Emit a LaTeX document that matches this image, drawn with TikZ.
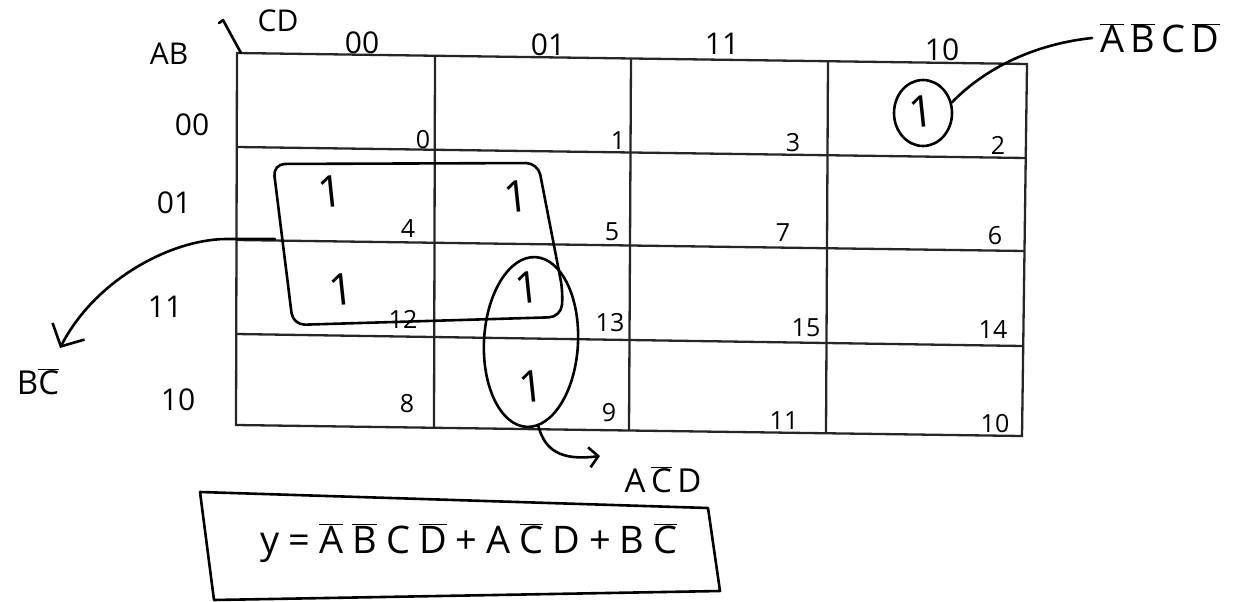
\documentclass[tikz,border=0pt]{standalone}
\usepackage{fontspec}
\setmainfont{Open Sans}
\usetikzlibrary{arrows.meta,shapes.geometric}
\newcommand\nb[1]{$\overline{\mbox{#1}}$}
\newcommand\gap{\kern9pt}
\begin{document}
\begin{tikzpicture}[x=1pt,y=-1pt,
  ink/.style={line width=2.6pt, line cap=round, line join=round, draw=black},
  gridline/.style={line width=2.3pt, draw=black!85},
  lbl/.style={font=\fontsize{30}{32}\selectfont, inner sep=0pt},
  cellno/.style={font=\fontsize{25}{27}\selectfont, inner sep=0pt},
  one/.style={font=\fontsize{44}{46}\selectfont, inner sep=0pt, rotate=6},
  term/.style={inner sep=0pt},
  barb/.style={-{Straight Barb[length=17pt,width=36pt,line width=2.6pt]}},
  smallbarb/.style={-{Straight Barb[length=9pt,width=20pt,line width=2.6pt]}},
]
\useasboundingbox (0,0) rectangle (1234,602);

% ---- K-map grid (slightly tilted, as drawn by hand)
\draw[gridline] (237,53) -- (1027,64) -- (1022,436) -- (236,425) -- cycle;
\draw[gridline] (237,147) -- (1026,158);
\draw[gridline] (236.5,240) -- (1024.5,251);
\draw[gridline] (236,334) -- (1023,346);
\draw[gridline] (435,55.8) -- (434,427.8);
\draw[gridline] (631,58.5) -- (629,430.5);
\draw[gridline] (828,61.2) -- (826,433.2);

% ---- corner heading
\node[lbl] (ab) at (169,54) {AB};
\node[lbl] (cd) at (278,21) {CD};
\draw[ink] (219,23) -- (223,20) -- (241,53);

% ---- column headings (CD)
\node[lbl] (c00) at (362,43) {00};
\node[lbl] (c01) at (548,45) {01};
\node[lbl] (c11) at (722,44) {11};
\node[lbl] (c10) at (942,50) {10};

% ---- row headings (AB)
\node[lbl] (r00) at (192,125) {00};
\node[lbl] (r01) at (174,203) {01};
\node[lbl] (r11) at (165,307) {11};
\node[lbl] (r10) at (178,400) {10};

% ---- cell indices
\node[cellno] (n0)  at (423,140) {0};
\node[cellno] (n1)  at (618,141) {1};
\node[cellno] (n3)  at (793,143) {3};
\node[cellno] (n2)  at (998,145) {2};
\node[cellno] (n4)  at (408,229) {4};
\node[cellno] (n5)  at (612,232) {5};
\node[cellno] (n7)  at (783,233) {7};
\node[cellno] (n6)  at (995,236) {6};
\node[cellno] (n12) at (403,319) {12};
\node[cellno] (n13) at (610,323) {13};
\node[cellno] (n15) at (806,328) {15};
\node[cellno] (n14) at (993,330) {14};
\node[cellno] (n8)  at (407,404) {8};
\node[cellno] (n9)  at (609,413) {9};
\node[cellno] (n11) at (784,421) {11};
\node[cellno] (n10) at (995,424) {10};

% ---- minterms equal to 1
\node[one] (m4)  at (330,192) {1};
\node[one] (m5)  at (516,197) {1};
\node[one] (m12) at (341,290) {1};
\node[one] (m13) at (527,288) {1};
\node[one] (m9)  at (531,387) {1};
\node[one] (m2)  at (921,112) {1};

% ---- groups
\draw[ink, rounded corners=12pt] (273,164) -- (538,163) -- (563,292) -- (561,317) -- (293,325) -- cycle;
\node[ink, ellipse, draw, minimum width=94pt, minimum height=170pt, inner sep=0pt, rotate=-3] (gacd) at (531,342) {};
\node[ink, ellipse, draw, minimum width=58pt, minimum height=66pt, inner sep=0pt] (gm2) at (923,113) {};

% ---- term labels
\node[term, font=\fontsize{38}{40}\selectfont] (t1) at (1160,38) {\nb{A}\,\nb{B}\,C\,\nb{D}};
\node[term, font=\fontsize{33}{35}\selectfont] (t2) at (663,480) {A\,\nb{C}\,D};
\node[term, font=\fontsize{33}{35}\selectfont] (t3) at (38,382) {B\nb{C}};

\coordinate (bcstart) at (275,239);
\coordinate (bctip) at (60,348);
\coordinate (acdtip) at (600,456);

% ---- connectors
\draw[ink] (gm2.20) .. controls (985,68) and (1035,44) .. ([xshift=-8pt]t1.west);
\draw[ink, barb] (bcstart) -- (225,239) .. controls (170,240) and (95,280) .. (bctip);
\draw[ink, smallbarb] (gacd.-82) .. controls (545,450) and (560,461) .. (acdtip);

% ---- result
\node[inner sep=0pt, font=\fontsize{38}{40}\selectfont] (eq) at (469,543)
  {y\gap=\gap\nb{A}\gap\nb{B}\gap C\gap\nb{D}\gap+\gap A\gap\nb{C}\gap D\gap+\gap B\gap\nb{C}};
\draw[ink] (200,492) -- (708,508) -- (720,591) -- (214,600) -- cycle;
\end{tikzpicture}
\end{document}
